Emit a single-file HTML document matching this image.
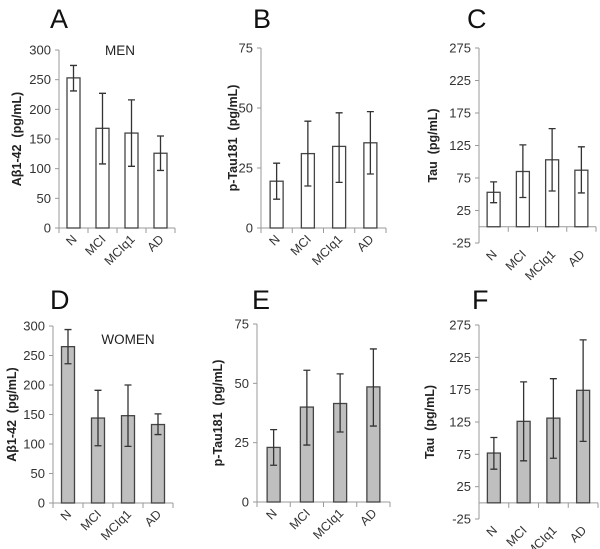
<!DOCTYPE html>
<html><head><meta charset="utf-8"><style>
body{margin:0;background:#fff;}
svg{display:block;font-family:"Liberation Sans",sans-serif;}
text{white-space:pre;}
</style></head><body>
<svg id="c" width="600" height="549" viewBox="0 0 600 549"></svg>
<script>
const categories=["N","MCI","MCIq1","AD"];
const aMean=[253,168,160,126], aLo=[231,108,104,97], aHi=[274,227,216,155];
const bMean=[19.5,31,34,35.5], bLo=[12,17.5,19,22.5], bHi=[27,44.5,48,48.5];
const cMean=[53,85,103,87], cLo=[37,45,55,52], cHi=[69,126,151,123];
const dMean=[265,144,148,133], dLo=[236,97,96,116], dHi=[294,191,200,151];
const eMean=[23,40,41.5,48.5], eLo=[15.5,24,29.5,32], eHi=[30.5,55.5,54,64.5];
const fMean=[77,126,131,174], fLo=[52,65,69,95], fHi=[101,187,192,252];
const ticksAbeta=[0,50,100,150,200,250,300];
const ticksPtau=[0,25,50,75];
const ticksTau=[-25,25,75,125,175,225,275];
const NS="http://www.w3.org/2000/svg";
const svg=document.getElementById('c');
function el(t,a,p){const e=document.createElementNS(NS,t);for(const k in a)e.setAttribute(k,a[k]);(p||svg).appendChild(e);return e;}
const panels=[
 {id:'a',letter:'A',lx:50,ly:28,ax:59,xe:175,yt:50,yb:228,min:0,max:300,ticks:ticksAbeta,m:aMean,lo:aLo,hi:aHi,fill:'#fff',ylab:'Aβ1-42  (pg/mL)',ylx:17,note:'MEN',nx:120,ny:55},
 {id:'b',letter:'B',lx:253,ly:28,ax:261,xe:386,yt:48,yb:228,min:0,max:75,ticks:ticksPtau,m:bMean,lo:bLo,hi:bHi,fill:'#fff',ylab:'p-Tau181  (pg/mL)',ylx:233},
 {id:'c',letter:'C',lx:467,ly:28,ax:479,xe:596,yt:48,yb:243,min:-25,max:275,ticks:ticksTau,m:cMean,lo:cLo,hi:cHi,fill:'#fff',ylab:'Tau  (pg/mL)',ylx:433},
 {id:'d',letter:'D',lx:50,ly:309,ax:53,xe:173,yt:326,yb:503,min:0,max:300,ticks:ticksAbeta,m:dMean,lo:dLo,hi:dHi,fill:'#bfbfbf',ylab:'Aβ1-42  (pg/mL)',ylx:12,note:'WOMEN',nx:128,ny:344},
 {id:'e',letter:'E',lx:252,ly:309,ax:257,xe:390,yt:324,yb:502,min:0,max:75,ticks:ticksPtau,m:eMean,lo:eLo,hi:eHi,fill:'#bfbfbf',ylab:'p-Tau181  (pg/mL)',ylx:218},
 {id:'f',letter:'F',lx:472,ly:309,ax:479,xe:598,yt:325,yb:519,min:-25,max:275,ticks:ticksTau,m:fMean,lo:fLo,hi:fHi,fill:'#bfbfbf',ylab:'Tau  (pg/mL)',ylx:430}
];
panels.forEach(p=>{
 const g=el('g',{});
 
 
 const y=v=>p.yb-(v-p.min)/(p.max-p.min)*(p.yb-p.yt);
 const step=(p.xe-p.ax)/categories.length;
 const x=i=>p.ax+step*(i+0.5);
 const L=el('text',{x:p.lx,y:p.ly,'font-size':27,fill:'#111'},g);L.textContent=p.letter;
 
 
 const ya=el('line',{x1:p.ax,y1:p.yt,x2:p.ax,y2:p.yb,stroke:'#999','stroke-width':1},g);
 
 
 p.ticks.forEach(t=>{
  el('line',{x1:p.ax-4,y1:y(t),x2:p.ax,y2:y(t),stroke:'#999'},g);
  const tl=el('text',{x:p.ax-8,y:y(t)+4.5,'font-size':13,'text-anchor':'end',fill:'#333'},g);
  tl.textContent=t;
  
  
 });
 const y0=y(0);
 const xa=el('line',{x1:p.ax,y1:y0,x2:p.xe,y2:y0,stroke:'#999'},g);
 
 
 for(let i=0;i<=categories.length;i++)el('line',{x1:p.ax+step*i,y1:y0,x2:p.ax+step*i,y2:y0+5,stroke:'#999'},g);
 const bw=13;
 categories.forEach((c,i)=>{
  const b=el('rect',{x:x(i)-bw/2,y:y(p.m[i]),width:bw,height:y0-y(p.m[i]),fill:p.fill,stroke:'#444','stroke-width':1.3},g);
  
  
  const e=el('path',{d:`M${x(i)},${y(p.lo[i])}V${y(p.hi[i])}M${x(i)-3.5},${y(p.lo[i])}h7M${x(i)-3.5},${y(p.hi[i])}h7`,stroke:'#333','stroke-width':1.3,fill:'none'},g);
  
  
  const lx=x(i)+4, ly=p.yb+12;
  const t=el('text',{x:lx,y:ly,'font-size':12.5,'text-anchor':'end',fill:'#333',transform:`rotate(-45 ${lx} ${ly})`},g);
  t.textContent=c;
  
  
 });
 const cy=(p.yt+p.yb)/2;
 const yl=el('text',{x:p.ylx+4,y:cy,'font-size':12.5,'font-weight':'bold','text-anchor':'middle',fill:'#222',transform:`rotate(-90 ${p.ylx+4} ${cy})`},g);
 yl.textContent=p.ylab;
 
 
 if(p.note){const n=el('text',{x:p.nx,y:p.ny,'font-size':13.5,'text-anchor':'middle',fill:'#222'},g);n.textContent=p.note;
  
  }
});
</script>
</body></html>
